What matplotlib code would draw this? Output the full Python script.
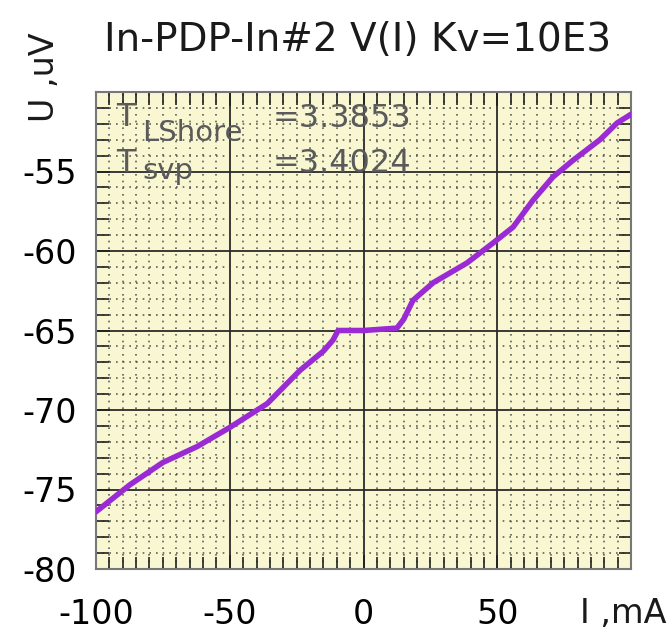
import matplotlib
matplotlib.use("Agg")
import matplotlib.pyplot as plt
from matplotlib.ticker import MultipleLocator

plt.rcParams['font.family'] = ['DejaVu Sans']
plt.rcParams['axes.unicode_minus'] = False

title = "In-PDP-In#2 V(I) Kv=10E3"
xlabel = "I ,mA"
ylabel = "U ,uV"
x_ticks = [-100, -50, 0, 50]
y_ticks = [-80, -75, -70, -65, -60, -55]

I_vals = [-100, -87.3, -75, -62.2, -50, -36, -23.7, -15, -11.4, -9.5, 0, 12.5,
          15, 18.5, 26, 38.7, 48.4, 55.9, 63.4, 70.8, 78.3, 88.4, 94.8, 100]
U_vals = [-76.4, -74.7, -73.3, -72.3, -71.1, -69.6, -67.5, -66.3, -65.6, -65.0,
          -65.0, -64.85, -64.3, -63.1, -62.0, -60.75, -59.5, -58.5, -56.8, -55.35,
          -54.3, -53.0, -51.95, -51.4]

ann_line1 = ("T", "LShore", "=3.3853")
ann_line2 = ("T", "svp", "=3.4024")

fig = plt.figure(figsize=(6.71, 6.33), dpi=100)
ax = fig.add_axes([96/671, 1-569/633, 535/671, 477/633])
ax.set_facecolor('#f8f7d2')

ax.plot(I_vals, U_vals, color='#9a2bd4', lw=4.0, solid_capstyle='round', zorder=3)

ax.set_xlim(-100, 100)
ax.set_ylim(-80, -50)
ax.set_xticks(x_ticks)
ax.set_yticks(y_ticks)
ax.xaxis.set_minor_locator(MultipleLocator(5))
ax.yaxis.set_minor_locator(MultipleLocator(1))

ax.grid(which='major', color='#2a2a2a', lw=1.3, ls='-', zorder=1)
ax.grid(which='minor', color='#3a3a3a', lw=1.2, ls=(0, (1, 3)), alpha=0.8, zorder=1)
ax.set_axisbelow(True)

ax.tick_params(which='both', direction='in', top=True, right=True, color='#222222')
ax.tick_params(which='major', length=10, width=1.3, labelsize=24, pad=21)
ax.tick_params(axis='y', which='major', pad=14)
ax.tick_params(which='minor', length=9, width=1.2)
for s in ax.spines.values():
    s.set_color('#777777')
    s.set_linewidth(1.5)

fig.text(358/671, 1-40/633, title, ha='center', va='center', fontsize=28, color='#1a1a1a')
fig.text(667/671, 1-623/633, xlabel, ha='right', va='baseline', fontsize=24, color='#1a1a1a')
fig.text(45/671, 1-77/633, ylabel, ha='center', va='center', rotation=90, fontsize=24, color='#1a1a1a')

tc = '#5a5a5a'
def fx(px):
    return (px-96)/535
def fy(py):
    return (569-py)/477

ax.text(fx(116), fy(126), ann_line1[0], transform=ax.transAxes, fontsize=23, color=tc, va='baseline', ha='left', zorder=4)
ax.text(fx(142), fy(141), ann_line1[1], transform=ax.transAxes, fontsize=21, color=tc, va='baseline', ha='left', zorder=4)
ax.text(fx(411), fy(127), ann_line1[2], transform=ax.transAxes, fontsize=23, color=tc, va='baseline', ha='right', zorder=4)
ax.text(fx(116), fy(172), ann_line2[0], transform=ax.transAxes, fontsize=23, color=tc, va='baseline', ha='left', zorder=4)
ax.text(fx(142), fy(179), ann_line2[1], transform=ax.transAxes, fontsize=21, color=tc, va='baseline', ha='left', zorder=4)
ax.text(fx(411), fy(172), ann_line2[2], transform=ax.transAxes, fontsize=23, color=tc, va='baseline', ha='right', zorder=4)

fig.savefig('out.png', dpi=100)
